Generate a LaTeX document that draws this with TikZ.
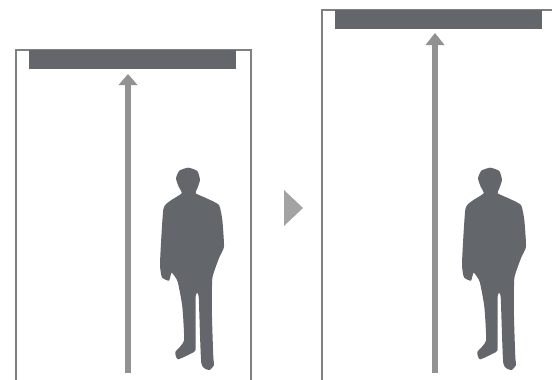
\documentclass[tikz,border=0pt]{standalone}
\usepackage{xcolor}
\usepackage{tikz}
\usetikzlibrary{calc,arrows.meta,positioning}
\definecolor{slatex}{HTML}{63666A}
\definecolor{framex}{HTML}{7F8082}
\definecolor{arrowx}{HTML}{929292}
\definecolor{markx}{HTML}{A3A3A3}
\tikzset{
  frameline/.style={draw=framex,line width=2pt},
  ceilbar/.style={fill=slatex},
  riseline/.style={draw=arrowx,line width=5.5pt},
  risehead/.style={fill=arrowx}
}
\newcommand{\figman}[2]{%
  \fill[slatex,shift={(#1,#2)},x=0.3333pt,y=-0.3333pt] plot[smooth cycle,tension=0.3] coordinates {
    (145,53) (172,63) (180,90) (172,115) (167,130) (200,145) (237,165) (247,210)
    (252,290) (238,322) (217,385) (216,500) (220,622) (222,645) (208,660) (184,640)
    (176,440) (167,440) (167,590) (162,606) (114,628) (106,606) (132,572) (127,470)
    (113,395) (95,368) (87,392) (66,382) (60,340) (70,178) (90,153) (125,130)
    (116,110) (108,85) (118,62)};}
\begin{document}
\begin{tikzpicture}[x=1pt,y=-1pt]
\useasboundingbox (0,0) rectangle (552,380);
% first room
\draw[frameline] (15.5,380) -- (15.5,50) -- (250.5,50) -- (250.5,380);
\fill[ceilbar] (29,50) rectangle (236,69);
\draw[riseline] (128,373) -- (128,84);
\fill[risehead] (128,74) -- (137.5,85) -- (118.5,85) -- cycle;
\figman{140}{150}
% step between
\fill[markx] (284,190) -- (303,208) -- (284,226) -- cycle;
% second room
\draw[frameline] (322,380) -- (322,9.5) -- (552,9.5);
\fill[ceilbar] (335,10) rectangle (542,29);
\draw[riseline] (435,373) -- (435,44);
\fill[risehead] (435,33) -- (444.5,45) -- (425.5,45) -- cycle;
\figman{442}{150}
\end{tikzpicture}
\end{document}
